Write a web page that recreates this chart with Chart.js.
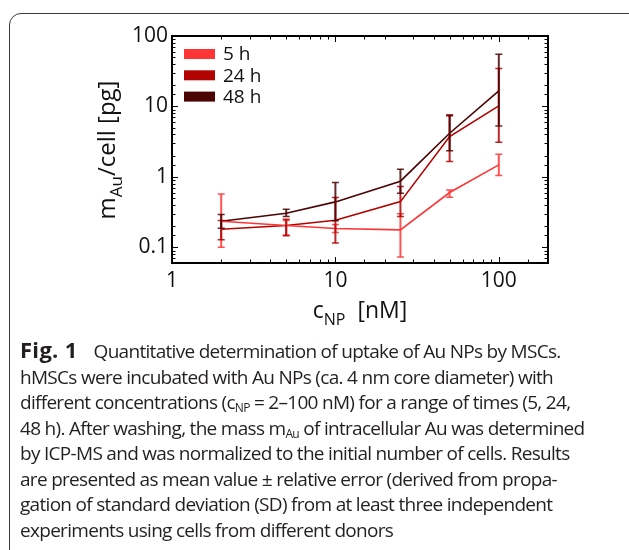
<!DOCTYPE html>
<html>
<head>
<meta charset="utf-8">
<script src="https://cdn.jsdelivr.net/npm/chart.js@4"></script>
<style>
    html, body { margin: 0; padding: 0; background: #fff; }
    body { width: 629px; height: 550px; position: relative; overflow: hidden; }
    #frame {
        position: absolute; left: 9px; top: 13px; width: 640px; height: 560px;
        border: 1.5px solid #3a3a3a; border-radius: 12px; box-sizing: border-box;
    }
    #chart { position: absolute; left: 0; top: 0; }
    #caption {
        position: absolute; left: 20px; top: 337px;
        font-family: "Open Sans", sans-serif; font-size: 19px; line-height: 25.5px;
        color: #231f20; white-space: nowrap; letter-spacing: -0.7px;
    }
    #caption b { font-size: 22px; letter-spacing: 0.3px; margin-right: 16px; }
    #caption sub { font-size: 12px; vertical-align: -3px; line-height: 0; }
</style>
</head>
<body>
<div id="frame"></div>
<canvas id="chart" width="629" height="335"></canvas>
<div id="caption">
<b>Fig. 1</b>Quantitative determination of uptake of Au NPs by MSCs.<br>
hMSCs were incubated with Au NPs (ca. 4 nm core diameter) with<br>
different concentrations (c<sub>NP</sub> = 2–100 nM) for a range of times (5, 24,<br>
48 h). After washing, the mass m<sub>Au</sub> of intracellular Au was determined<br>
by ICP-MS and was normalized to the initial number of cells. Results<br>
are presented as mean value ± relative error (derived from propa-<br>
gation of standard deviation (SD) from at least three independent<br>
experiments using cells from different donors
</div>
<script>
// concentrations c_NP [nM]
const concentrations = [2, 5, 10, 25, 50, 100];
const seriesLabels = ["5 h", "24 h", "48 h"];

// m_Au per cell [pg], with error bar ends
const mass5h = [0.235, 0.204, 0.185, 0.177, 0.60, 1.48];
const low5h = [0.10, 0.15, 0.162, 0.073, 0.515, 1.05];
const high5h = [0.574, 0.24, 0.211, 0.30, 0.654, 2.1];

const mass24h = [0.181, 0.204, 0.243, 0.446, 3.73, 10.2];
const low24h = [0.128, 0.146, 0.115, 0.274, 1.65, 3.1];
const high24h = [0.24, 0.25, 0.51, 0.73, 7.6, 34.7];

const mass48h = [0.235, 0.305, 0.442, 0.87, 4.17, 16.6];
const low48h = [0.187, 0.274, 0.238, 0.587, 2.36, 5.3];
const high48h = [0.293, 0.348, 0.83, 1.28, 7.4, 55];

const xTicks = [1, 10, 100];
const yTicks = [0.1, 1, 10, 100];

const colors = ["#ff3535", "#b30202", "#4b0303"];
const FONT = "Open Sans";

function series(values) {
    return concentrations.map(function (c, i) { return { x: c, y: values[i] }; });
}

function isListed(list, v) {
    return list.some(function (t) { return Math.abs(t - v) / t < 1e-6; });
}

const extras = {
    id: "extras",
    afterDatasetsDraw(chart) {
        const ctx = chart.ctx;
        const xs = chart.scales.x, ys = chart.scales.y;
        const lows = [low5h, low24h, low48h], highs = [high5h, high24h, high48h];
        ctx.save();
        lows.forEach(function (low, k) {
            ctx.strokeStyle = colors[k];
            ctx.globalAlpha = 0.85;
            concentrations.forEach(function (c, i) {
                const px = xs.getPixelForValue(c);
                const y1 = ys.getPixelForValue(low[i]);
                const y2 = ys.getPixelForValue(highs[k][i]);
                ctx.lineWidth = 2;
                ctx.beginPath();
                ctx.moveTo(px, y1); ctx.lineTo(px, y2);
                ctx.stroke();
                ctx.lineWidth = 1.5;
                ctx.beginPath();
                ctx.moveTo(px - 3.5, y1); ctx.lineTo(px + 3.5, y1);
                ctx.moveTo(px - 3.5, y2); ctx.lineTo(px + 3.5, y2);
                ctx.stroke();
            });
        });
        ctx.restore();
    },
    afterDraw(chart) {
        const ctx = chart.ctx;
        const a = chart.chartArea;
        const xs = chart.scales.x, ys = chart.scales.y;
        ctx.save();
        // box round the plot
        ctx.strokeStyle = "#000";
        ctx.lineWidth = 2;
        ctx.strokeRect(a.left, a.top, a.right - a.left, a.bottom - a.top);
        // inward ticks on all four sides
        ctx.lineWidth = 1;
        ctx.beginPath();
        xs.ticks.forEach(function (t) {
            const px = Math.round(xs.getPixelForValue(t.value)) + 0.5;
            if (px < a.left + 1 || px > a.right - 1) return;
            const len = isListed(xTicks, t.value) ? 6 : 3.5;
            ctx.moveTo(px, a.bottom); ctx.lineTo(px, a.bottom - len);
            ctx.moveTo(px, a.top); ctx.lineTo(px, a.top + len);
        });
        ys.ticks.forEach(function (t) {
            const py = Math.round(ys.getPixelForValue(t.value)) + 0.5;
            if (py < a.top + 1 || py > a.bottom - 1) return;
            const len = isListed(yTicks, t.value) ? 6 : 3.5;
            ctx.moveTo(a.left, py); ctx.lineTo(a.left + len, py);
            ctx.moveTo(a.right, py); ctx.lineTo(a.right - len, py);
        });
        ctx.stroke();

        // legend inside the plot
        ctx.font = "19px '" + FONT + "'";
        ctx.textBaseline = "middle";
        chart.data.datasets.forEach(function (ds, k) {
            const cy = a.top + 18 + k * 21.3;
            ctx.fillStyle = ds.borderColor;
            ctx.fillRect(a.left + 12, cy - 5, 31, 10);
            ctx.fillStyle = "#111";
            ctx.fillText(ds.label, a.left + 51, cy + 1);
        });

        // axis titles with subscripts
        ctx.fillStyle = "#111";
        ctx.textBaseline = "alphabetic";
        drawSub(ctx, [["c", 0], ["NP", 1], ["  [nM]", 0]], (a.left + a.right) / 2, 318, 23);
        ctx.translate(115, 150);
        ctx.rotate(-Math.PI / 2);
        drawSub(ctx, [["m", 0], ["Au", 1], ["/cell [pg]", 0]], 0, 0, 24);
        ctx.restore();
    }
};

function drawSub(ctx, parts, cx, base, size) {
    const big = size + "px '" + FONT + "'", small = Math.round(size * 0.7) + "px '" + FONT + "'";
    let w = 0;
    parts.forEach(function (p) { ctx.font = p[1] ? small : big; w += ctx.measureText(p[0]).width; });
    let x = cx - w / 2;
    parts.forEach(function (p) {
        ctx.font = p[1] ? small : big;
        ctx.textAlign = "left";
        ctx.fillText(p[0], x, p[1] ? base + 7 : base);
        x += ctx.measureText(p[0]).width;
    });
}

new Chart(document.getElementById("chart"), {
    type: "line",
    data: {
        datasets: [
            { label: seriesLabels[0], data: series(mass5h), borderColor: colors[0] },
            { label: seriesLabels[1], data: series(mass24h), borderColor: colors[1] },
            { label: seriesLabels[2], data: series(mass48h), borderColor: colors[2] },
        ],
    },
    options: {
        responsive: false,
        animation: false,
        devicePixelRatio: 1,
        layout: { padding: { left: 100, right: 81, top: 36, bottom: 0 } },
        elements: {
            line: { borderWidth: 1.6, tension: 0, fill: false },
            point: { radius: 0 },
        },
        plugins: { legend: { display: false }, tooltip: { enabled: false } },
        scales: {
            x: {
                type: "logarithmic",
                min: 1,
                max: 200,
                grid: { display: false, drawTicks: false },
                border: { display: true, color: "#000", width: 2 },
                afterFit: function (s) { s.height = 72; },
                ticks: {
                    autoSkip: false,
                    maxRotation: 0,
                    padding: 5,
                    color: "#111",
                    font: { family: FONT, size: 21 },
                    callback: function (v) { return isListed(xTicks, v) ? String(v) : ""; },
                },
            },
            y: {
                type: "logarithmic",
                min: 0.06,
                max: 100,
                grid: { display: false, drawTicks: false },
                border: { display: true, color: "#000", width: 2 },
                afterFit: function (s) { s.width = 72; },
                ticks: {
                    autoSkip: false,
                    padding: 4,
                    color: "#111",
                    font: { family: FONT, size: 21 },
                    callback: function (v) { return isListed(yTicks, v) ? String(v) : ""; },
                },
            },
        },
    },
    plugins: [extras],
});
</script>
</body>
</html>
